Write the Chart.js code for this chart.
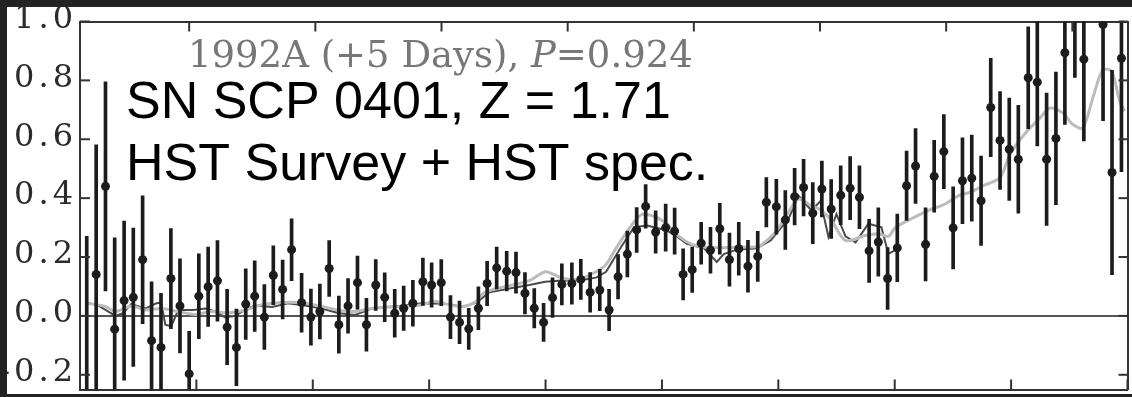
<!DOCTYPE html>
<html>
<head>
<meta charset="utf-8">
<script src="https://cdn.jsdelivr.net/npm/chart.js@4.4.1/dist/chart.umd.min.js"></script>
<style>
  html, body { margin: 0; padding: 0; background: #232323; }
  body { width: 1132px; height: 397px; overflow: hidden; position: relative; }
  #wrap { position: absolute; left: 7px; top: 7px; width: 1125px; height: 387px; background: #fff; }
</style>
</head>
<body>
<div id="wrap"><canvas id="myChart" width="1125" height="387"></canvas></div>
<script>
// tick values (bottom = observed, top = rest frame, y = flux)
const obsTicks = [0, 1, 2, 3, 4, 5, 6, 7, 8, 9];
const restTicks = [0, 1, 2, 3, 4, 5, 6, 7];
const fluxTicks = [-0.2, 0.0, 0.2, 0.4, 0.6, 0.8, 1.0];

// binned spectrum points with errors
const ptX = [0.058,0.139,0.219,0.298,0.379,0.458,0.538,0.615,0.696,0.781,
  0.859,0.938,1.021,1.101,1.181,1.264,1.344,1.424,1.501,1.584,
  1.661,1.741,1.818,1.904,1.984,2.061,2.141,2.224,2.303,2.384,
  2.461,2.541,2.618,2.704,2.781,2.860,2.946,3.021,3.104,3.183,
  3.261,3.340,3.423,3.498,3.580,3.666,3.746,3.823,3.903,3.983,
  4.060,4.140,4.226,4.303,4.383,4.466,4.546,4.623,4.703,4.783,
  4.860,4.946,5.032,5.109,5.182,5.260,5.337,5.417,5.497,5.580,
  5.660,5.739,5.823,5.897,5.983,6.060,6.140,6.217,6.296,6.374,
  6.454,6.536,6.617,6.697,6.780,6.859,6.939,7.022,7.102,7.179,
  7.265,7.339,7.422,7.502,7.582,7.662,7.742,7.825,7.905,7.984,
  8.062,8.147,8.225,8.305,8.385,8.462,8.548,8.625,8.790,8.867,
  8.948];
const ptY = [-0.28,0.141,0.44,-0.045,0.052,0.063,0.191,-0.084,-0.107,0.127,
  0.034,-0.197,0.067,0.099,0.119,-0.038,-0.107,0.04,0.067,-0.004,
  0.138,0.09,0.225,0.045,-0.004,0.015,0.161,-0.03,0.034,0.113,
  -0.03,0.105,0.063,0.009,0.026,0.043,0.116,0.105,0.113,-0.004,
  -0.022,-0.044,0.026,0.11,0.163,0.152,0.147,0.077,0.026,-0.022,
  0.062,0.107,0.11,0.124,0.08,0.088,0.02,0.133,0.21,0.292,
  0.372,0.285,0.30,0.288,0.141,0.157,0.247,0.223,0.296,0.191,
  0.228,0.169,0.202,0.386,0.371,0.326,0.405,0.436,0.349,0.431,
  0.363,0.41,0.434,0.403,0.221,0.251,0.127,0.231,0.442,0.509,
  0.243,0.474,0.558,0.299,0.459,0.468,0.391,0.708,0.596,0.566,
  0.532,0.809,0.794,0.532,0.603,0.894,1.06,0.872,0.99,0.487,
  0.875];
const ptErr = [0.55,0.44,0.355,0.31,0.27,0.235,0.217,0.2,0.184,0.17,
  0.16,0.145,0.144,0.135,0.137,0.128,0.13,0.12,0.12,0.11,
  0.10,0.10,0.105,0.10,0.095,0.093,0.095,0.097,0.093,0.09,
  0.09,0.086,0.083,0.081,0.075,0.078,0.08,0.075,0.078,0.073,
  0.072,0.07,0.073,0.075,0.071,0.067,0.07,0.07,0.067,0.065,
  0.067,0.07,0.07,0.068,0.067,0.07,0.07,0.075,0.078,0.076,
  0.074,0.072,0.08,0.078,0.087,0.077,0.071,0.078,0.086,0.09,
  0.09,0.088,0.085,0.084,0.093,0.1,0.096,0.096,0.104,0.095,
  0.1,0.1,0.107,0.107,0.107,0.116,0.105,0.115,0.118,0.127,
  0.124,0.122,0.126,0.139,0.146,0.146,0.152,0.167,0.166,0.174,
  0.183,0.173,0.217,0.225,0.225,0.244,0.25,0.278,0.327,0.347,
  0.385];

// light grey fitted model
const fitX = [0.056,0.219,0.304,0.441,0.561,0.698,0.844,0.990,1.127,1.272,
  1.418,1.530,1.650,1.804,1.932,2.078,2.215,2.361,2.506,2.644,
  2.789,2.935,3.046,3.149,3.286,3.406,3.466,3.578,3.715,3.860,
  3.997,4.075,4.143,4.289,4.434,4.520,4.606,4.743,4.829,4.949,
  5.034,5.146,5.257,5.360,5.428,5.574,5.720,5.831,5.900,5.985,
  6.114,6.174,6.285,6.362,6.457,6.577,6.748,6.860,6.945,7.005,
  7.142,7.288,7.433,7.545,7.648,7.759,7.905,7.990,8.136,8.248,
  8.333,8.445,8.530,8.616,8.702,8.787,8.864,8.933,8.976];
const fitY = [0.043,0.032,0.015,0.034,0.02,0.025,0.015,0.005,0.015,0.01,
  0.02,0.035,0.043,0.046,0.043,0.032,0.02,0.015,0.025,0.03,
  0.032,0.037,0.05,0.04,0.032,0.05,0.077,0.093,0.105,0.12,
  0.15,0.14,0.128,0.125,0.15,0.175,0.23,0.31,0.345,0.335,
  0.315,0.27,0.243,0.234,0.232,0.232,0.234,0.236,0.256,0.29,
  0.369,0.397,0.374,0.36,0.324,0.256,0.273,0.279,0.27,0.30,
  0.33,0.358,0.38,0.408,0.42,0.442,0.47,0.549,0.627,0.672,
  0.706,0.689,0.65,0.639,0.74,0.835,0.83,0.729,0.695];

// dark grey template (1992A, +5 days)
const tmplX = [0.056,0.159,0.304,0.364,0.441,0.561,0.656,0.698,0.733,0.784,
  0.844,0.973,1.075,1.161,1.247,1.333,1.418,1.504,1.650,1.787,
  1.932,2.078,2.215,2.361,2.506,2.644,2.789,2.935,3.046,3.175,
  3.286,3.406,3.517,3.715,3.860,3.997,4.143,4.289,4.434,4.520,
  4.649,4.760,4.872,4.975,5.043,5.129,5.214,5.360,5.471,5.531,
  5.643,5.814,5.934,6.003,6.088,6.174,6.285,6.362,6.431,6.499,
  6.577,6.663,6.774,6.886,6.945,7.014];
const tmplY = [0.046,0.035,0.0,0.008,0.04,0.025,0.043,0.045,-0.03,-0.035,
  0.02,0.02,0.025,0.015,-0.005,0.0,0.02,0.035,0.03,0.043,
  0.035,0.025,0.01,0.003,0.025,0.03,0.035,0.043,0.042,0.04,
  0.03,0.045,0.08,0.095,0.105,0.116,0.12,0.12,0.13,0.15,
  0.234,0.301,0.307,0.297,0.29,0.27,0.245,0.23,0.183,0.21,
  0.225,0.23,0.256,0.29,0.33,0.408,0.358,0.39,0.268,0.346,
  0.27,0.25,0.313,0.301,0.211,0.225];

const titleParts = ['1992A (+5 Days), ', 'P', '=0.924'];
const snLines = ['SN SCP 0401, Z = 1.71', 'HST Survey + HST spec.'];

// rest-frame ticks sit at restZero + n * restStep on the bottom scale
const restZero = 0.938;
const restStep = 1.084;

const frameColor = '#333';

// inward tick marks + text overlays
const frameTicks = {
  id: 'frameTicks',
  beforeDraw(chart) { chart.ctx.letterSpacing = '4px'; },
  beforeDatasetsDraw(chart) { chart.ctx.letterSpacing = '0px'; },
  afterDraw(chart) {
    const { ctx, chartArea, scales } = chart;
    const top = chartArea.top, bottom = chartArea.bottom, left = chartArea.left, right = chartArea.right;
    ctx.save();
    ctx.letterSpacing = '0px';
    ctx.fillStyle = frameColor;
    obsTicks.forEach(v => {
      const px = scales.x.getPixelForValue(v);
      ctx.fillRect(px - 1, bottom - 10, 2, 10);
    });
    restTicks.forEach(v => {
      const px = scales.x.getPixelForValue(restZero + v * restStep);
      ctx.fillRect(px - 1, top, 2, 10);
    });
    fluxTicks.forEach(v => {
      const py = scales.y.getPixelForValue(v);
      ctx.fillRect(left, py - 1, 10, 2);
      ctx.fillRect(right - 9, py - 1, 9, 2);
    });

    // grey template label
    ctx.textAlign = 'left';
    ctx.textBaseline = 'alphabetic';
    ctx.fillStyle = '#777';
    let x = 181;
    const fonts = ['37px "DejaVu Serif"', 'italic 37px "DejaVu Serif"', '37px "DejaVu Serif"'];
    titleParts.forEach((t, i) => {
      ctx.font = fonts[i];
      ctx.fillText(t, x, 60);
      x += ctx.measureText(t).width;
    });

    // SN annotation
    ctx.fillStyle = '#000';
    ctx.font = '52px "Liberation Sans", Arial, sans-serif';
    ctx.fillText(snLines[0], 119, 111);
    ctx.fillText(snLines[1], 119, 173);
    ctx.restore();
  }
};

document.addEventListener('DOMContentLoaded', function() {
  const ctx = document.getElementById('myChart').getContext('2d');
  const border = { display: true, color: frameColor, width: 2 };
  const noPad = s => { s.paddingTop = 0; s.paddingBottom = 0; s.paddingLeft = 0; s.paddingRight = 0; };

  new Chart(ctx, {
    type: 'scatter',
    data: {
      datasets: [{
        type: 'line',
        label: 'template',
        data: tmplX.map((x, i) => ({ x: x, y: tmplY[i] })),
        borderColor: '#4a4a4a',
        borderWidth: 2,
        pointRadius: 0,
        tension: 0,
        order: 4
      }, {
        type: 'line',
        label: 'fit',
        data: fitX.map((x, i) => ({ x: x, y: fitY[i] })),
        borderColor: '#bcbcbc',
        borderWidth: 3,
        pointRadius: 0,
        tension: 0.3,
        order: 3
      }, {
        type: 'bar',
        label: 'error',
        data: ptX.map((x, i) => ({ x: x, y: [ptY[i] - ptErr[i], ptY[i] + ptErr[i]] })),
        backgroundColor: '#1c1c1c',
        barThickness: 3,
        grouped: false,
        order: 2
      }, {
        type: 'scatter',
        label: 'flux',
        data: ptX.map((x, i) => ({ x: x, y: ptY[i] })),
        backgroundColor: '#1c1c1c',
        borderWidth: 0,
        pointRadius: 4.5,
        order: 1
      }]
    },
    options: {
      responsive: false,
      animation: false,
      layout: { padding: { left: 0, right: 4, top: 14.5, bottom: 2.3 } },
      plugins: { legend: { display: false }, tooltip: { enabled: false } },
      scales: {
        x: {
          type: 'linear', position: 'bottom', min: 0, max: 9,
          offset: false,
          ticks: { display: false },
          grid: { display: false, drawTicks: false, offset: false },
          border: border,
          afterFit(s) { s.height = 0; noPad(s); }
        },
        x2: {
          type: 'linear', axis: 'x', position: 'top', min: 0, max: 9,
          offset: false,
          ticks: { display: false },
          grid: { display: false, drawTicks: false, offset: false },
          border: border,
          afterFit(s) { s.height = 0; noPad(s); }
        },
        y: {
          type: 'linear', position: 'left', min: -0.25, max: 1.0,
          afterBuildTicks(s) { s.ticks = fluxTicks.map(v => ({ value: v })); },
          ticks: {
            callback: v => v.toFixed(1),
            font: { family: 'DejaVu Serif', size: 32 },
            color: '#2b2b2b',
            padding: 3,
            labelOffset: -2
          },
          grid: {
            drawTicks: false,
            color: c => (c.tick && c.tick.value === 0) ? '#555' : 'rgba(0,0,0,0)',
            lineWidth: 2
          },
          border: border,
          afterFit(s) { s.width = 73; noPad(s); }
        },
        y2: {
          type: 'linear', axis: 'y', position: 'right', min: -0.25, max: 1.0,
          ticks: { display: false },
          grid: { display: false, drawTicks: false },
          border: border,
          afterFit(s) { s.width = 0; noPad(s); }
        }
      }
    },
    plugins: [frameTicks]
  });
});
</script>
</body>
</html>
